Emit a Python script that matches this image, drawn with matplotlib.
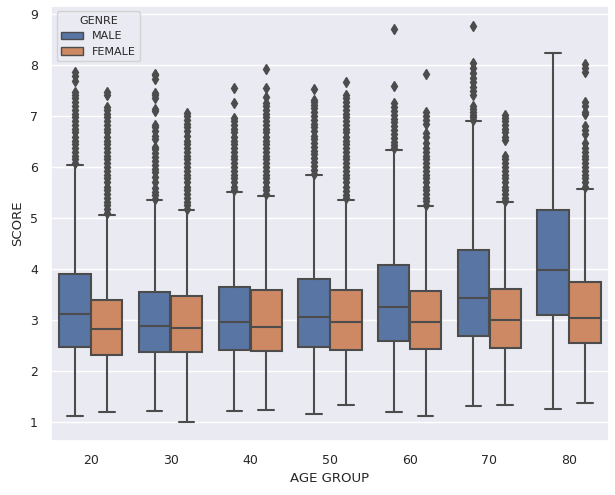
import colorsys

import matplotlib
matplotlib.use("Agg")
import matplotlib.pyplot as plt
import matplotlib.patches as mpatches
import seaborn as sns

sns.set_theme(style="darkgrid")
plt.rcParams["font.family"] = ["DejaVu Sans"]

age_groups = ["20", "30", "40", "50", "60", "70", "80"]
genres = ["MALE", "FEMALE"]

# box statistics: lower whisker, q1, median, q3, upper whisker
male_whislo = [1.13, 1.22, 1.22, 1.17, 1.19, 1.31, 1.25]
male_q1 = [2.48, 2.37, 2.42, 2.48, 2.59, 2.69, 3.10]
male_med = [3.12, 2.89, 2.97, 3.07, 3.26, 3.44, 3.99]
male_q3 = [3.91, 3.56, 3.65, 3.81, 4.09, 4.38, 5.15]
male_whishi = [6.05, 5.35, 5.52, 5.84, 6.34, 6.91, 8.23]

female_whislo = [1.20, 1.00, 1.24, 1.33, 1.13, 1.33, 1.38]
female_q1 = [2.31, 2.37, 2.39, 2.42, 2.44, 2.46, 2.56]
female_med = [2.82, 2.85, 2.87, 2.97, 2.97, 3.01, 3.05]
female_q3 = [3.40, 3.48, 3.59, 3.59, 3.58, 3.61, 3.75]
female_whishi = [5.07, 5.15, 5.44, 5.36, 5.23, 5.31, 5.57]

# outliers (estimated)
male_fliers = [
    [6.08, 6.15, 6.22, 6.3, 6.38, 6.45, 6.52, 6.6, 6.68, 6.75, 6.82, 6.9, 6.98,
     7.05, 7.12, 7.2, 7.28, 7.35, 7.42, 7.48, 7.68, 7.78, 7.86],
    [5.38, 5.45, 5.52, 5.6, 5.7, 5.8, 5.9, 5.97, 6.05, 6.12, 6.2, 6.28, 6.35,
     6.4, 6.55, 6.62, 6.7, 6.78, 6.82, 7.1, 7.14, 7.35, 7.42, 7.45, 7.73, 7.8, 7.83],
    [5.55, 5.62, 5.7, 5.78, 5.85, 5.92, 6.0, 6.08, 6.15, 6.22, 6.3, 6.38, 6.45,
     6.52, 6.6, 6.68, 6.75, 6.82, 6.9, 6.96, 7.26, 7.55],
    [5.87, 5.95, 6.02, 6.1, 6.18, 6.25, 6.32, 6.4, 6.48, 6.55, 6.62, 6.7, 6.78,
     6.85, 6.92, 7.0, 7.08, 7.15, 7.22, 7.28, 7.32, 7.54],
    [6.37, 6.44, 6.5, 6.58, 6.65, 6.72, 6.8, 6.88, 6.95, 7.02, 7.1, 7.18, 7.26,
     7.6, 8.71],
    [6.93, 6.98, 7.03, 7.08, 7.13, 7.19, 7.42, 7.5, 7.58, 7.66, 7.75, 7.85, 7.95,
     8.04, 8.77],
    [],
]
female_fliers = [
    [5.1, 5.17, 5.25, 5.32, 5.4, 5.48, 5.55, 5.62, 5.7, 5.78, 5.85, 5.92, 6.0,
     6.08, 6.15, 6.22, 6.3, 6.38, 6.45, 6.52, 6.6, 6.68, 6.75, 6.82, 6.9, 6.98,
     7.05, 7.12, 7.17, 7.42, 7.47],
    [5.18, 5.25, 5.32, 5.4, 5.48, 5.55, 5.62, 5.7, 5.78, 5.85, 5.92, 6.0, 6.08,
     6.15, 6.22, 6.3, 6.38, 6.45, 6.52, 6.62, 6.7, 6.78, 6.85, 6.92, 7.0, 7.07],
    [5.47, 5.55, 5.62, 5.7, 5.78, 5.85, 5.92, 6.0, 6.08, 6.15, 6.22, 6.3, 6.38,
     6.45, 6.52, 6.6, 6.68, 6.75, 6.82, 6.9, 6.98, 7.05, 7.12, 7.2, 7.26, 7.38,
     7.55, 7.93],
    [5.39, 5.46, 5.54, 5.62, 5.7, 5.78, 5.85, 5.92, 6.0, 6.08, 6.15, 6.22, 6.3,
     6.38, 6.45, 6.52, 6.6, 6.68, 6.75, 6.82, 6.9, 6.98, 7.05, 7.12, 7.2, 7.28,
     7.35, 7.42, 7.66],
    [5.26, 5.33, 5.4, 5.48, 5.55, 5.62, 5.7, 5.78, 5.85, 5.92, 6.0, 6.08, 6.15,
     6.22, 6.3, 6.38, 6.47, 6.59, 6.67, 6.85, 6.92, 7.0, 7.09, 7.83],
    [5.34, 5.4, 5.48, 5.55, 5.62, 5.7, 5.78, 5.85, 5.92, 6.0, 6.08, 6.15, 6.21,
     6.54, 6.6, 6.68, 6.75, 6.82, 6.9, 6.97, 7.03],
    [5.62, 5.7, 5.78, 5.85, 5.92, 6.0, 6.08, 6.15, 6.22, 6.3, 6.38, 6.47, 6.65,
     6.73, 6.8, 7.05, 7.09, 7.2, 7.28, 7.87, 7.95, 8.03],
]

palette = [sns.desaturate(c, 0.75) for c in sns.color_palette("deep")[:2]]
lum = min(colorsys.rgb_to_hls(*c)[1] for c in palette) * 0.6
gray = (lum, lum, lum)


def make_stats(lo, q1, med, q3, hi, fliers):
    return [dict(whislo=a, q1=b, med=c, q3=d, whishi=e, fliers=f)
            for a, b, c, d, e, f in zip(lo, q1, med, q3, hi, fliers)]


groups = [
    make_stats(male_whislo, male_q1, male_med, male_q3, male_whishi, male_fliers),
    make_stats(female_whislo, female_q1, female_med, female_q3, female_whishi, female_fliers),
]

fig, ax = plt.subplots(figsize=(6.15, 4.95), dpi=100)
fig.subplots_adjust(left=0.083, right=0.99, top=0.988, bottom=0.11)

width = 0.8 / 2 * 0.98
for k, stats in enumerate(groups):
    pos = [i - 0.2 + 0.4 * k for i in range(len(age_groups))]
    ax.bxp(stats, positions=pos, widths=width, patch_artist=True,
           capwidths=width / 2,
           boxprops=dict(facecolor=palette[k], edgecolor=gray, linewidth=1.5),
           whiskerprops=dict(color=gray, linewidth=1.5),
           capprops=dict(color=gray, linewidth=1.5),
           medianprops=dict(color=gray, linewidth=1.5),
           flierprops=dict(marker="d", markersize=5, markerfacecolor=gray,
                           markeredgecolor=gray, linestyle="none"))

ax.set_xticks(range(len(age_groups)))
ax.set_xticklabels(age_groups)
ax.set_xlim(-0.5, len(age_groups) - 0.5)
ax.set_ylim(0.64, 9.16)
ax.xaxis.grid(False)
ax.tick_params(labelsize=9)
ax.set_xlabel("AGE GROUP", fontsize=9.5)
ax.set_ylabel("SCORE", fontsize=9.5)

handles = [mpatches.Patch(facecolor=palette[k], edgecolor=gray, label=g)
           for k, g in enumerate(genres)]
ax.legend(handles=handles, title="GENRE", loc="upper left", fontsize=8,
          title_fontsize=8)

fig.savefig("out.png")
